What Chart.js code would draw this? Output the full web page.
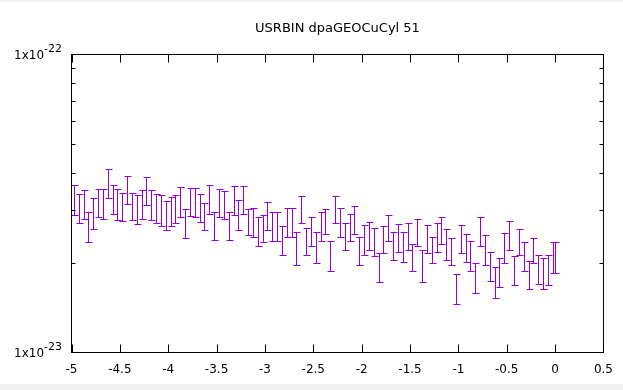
<!DOCTYPE html>
<html>
<head>
<meta charset="utf-8">
<script src="https://cdn.jsdelivr.net/npm/chart.js@4.4.1/dist/chart.umd.min.js"></script>
<style>
  html, body { margin: 0; padding: 0; background: #f0f0f0; }
  #wrap { position: absolute; left: 0; top: 2px; width: 623px; height: 382px; background: #fff; }
</style>
</head>
<body>
<div id="wrap"><canvas id="chart" width="623" height="382"></canvas></div>
<script>
// bin centres (x) and error bar limits, values in units of 1e-23
var binCenters = [
  -4.975, -4.925, -4.875, -4.825, -4.775, -4.725, -4.675, -4.625, -4.575, -4.525,
  -4.475, -4.425, -4.375, -4.325, -4.275, -4.225, -4.175, -4.125, -4.075, -4.025,
  -3.975, -3.925, -3.875, -3.825, -3.775, -3.725, -3.675, -3.625, -3.575, -3.525,
  -3.475, -3.425, -3.375, -3.325, -3.275, -3.225, -3.175, -3.125, -3.075, -3.025,
  -2.975, -2.925, -2.875, -2.825, -2.775, -2.725, -2.675, -2.625, -2.575, -2.525,
  -2.475, -2.425, -2.375, -2.325, -2.275, -2.225, -2.175, -2.125, -2.075, -2.025,
  -1.975, -1.925, -1.875, -1.825, -1.775, -1.725, -1.675, -1.625, -1.575, -1.525,
  -1.475, -1.425, -1.375, -1.325, -1.275, -1.225, -1.175, -1.125, -1.075, -1.025,
  -0.975, -0.925, -0.875, -0.825, -0.775, -0.725, -0.675, -0.625, -0.575, -0.525,
  -0.475, -0.425, -0.375, -0.325, -0.275, -0.225, -0.175, -0.125, -0.075, -0.025,
  0
];
var highVals = [
  3.64, 3.41, 3.52, 2.96, 3.31, 3.55, 3.55, 4.14, 3.64, 3.55,
  3.44, 3.92, 3.44, 3.39, 3.52, 3.89, 3.52, 3.41, 3.39, 3.23,
  3.33, 3.39, 3.60, 3.04, 3.57, 3.57, 3.41, 3.18, 3.64, 2.96,
  3.55, 3.47, 2.96, 3.61, 3.26, 3.63, 3.02, 3.06, 2.86, 2.90,
  3.21, 2.95, 2.97, 2.65, 3.06, 3.06, 2.53, 3.36, 2.62, 2.84,
  2.53, 2.97, 3.04, 2.37, 3.36, 3.06, 2.73, 2.92, 3.09, 2.45,
  2.67, 2.75, 2.62, 2.16, 2.65, 2.90, 2.53, 2.69, 2.54, 2.73,
  2.32, 2.81, 2.20, 2.67, 2.45, 2.73, 2.84, 2.60, 2.43, 1.83,
  2.67, 2.49, 2.36, 2.00, 2.86, 2.47, 2.18, 1.94, 2.08, 2.51,
  2.77, 2.10, 2.60, 2.34, 2.03, 2.43, 2.12, 2.08, 2.13, 2.34,
  2.34
];
var lowVals = [
  2.89, 2.71, 2.81, 2.34, 2.60, 2.84, 2.81, 3.31, 2.91, 2.79,
  2.76, 3.14, 2.79, 2.69, 2.81, 3.12, 2.78, 2.72, 2.65, 2.58,
  2.65, 2.72, 2.86, 2.43, 2.87, 2.86, 2.75, 2.58, 2.91, 2.39,
  2.86, 2.81, 2.39, 2.89, 2.58, 2.92, 2.47, 2.45, 2.28, 2.34,
  2.58, 2.36, 2.36, 2.13, 2.45, 2.45, 1.96, 2.73, 2.12, 2.28,
  2.00, 2.37, 2.49, 1.88, 2.73, 2.45, 2.21, 2.37, 2.49, 1.96,
  2.12, 2.21, 2.10, 1.73, 2.16, 2.36, 2.05, 2.18, 2.02, 2.20,
  1.87, 2.27, 1.73, 2.15, 1.99, 2.18, 2.32, 2.05, 1.97, 1.45,
  2.15, 2.02, 1.87, 1.58, 2.28, 1.97, 1.74, 1.52, 1.66, 1.99,
  2.21, 1.69, 2.12, 1.87, 1.63, 1.99, 1.70, 1.63, 1.69, 1.85,
  1.85
];
var unit = 1e-23;

var xTickVals = [-5, -4.5, -4, -3.5, -3, -2.5, -2, -1.5, -1, -0.5, 0, 0.5];
var yMajorVals = [1e-23, 1e-22];
var yMajorExp = ['-23', '-22'];
var yMinorVals = [2e-23, 3e-23, 4e-23, 5e-23, 6e-23, 7e-23, 8e-23, 9e-23];

var barColor = '#9400d3';
var fontFamily = "'DejaVu Sans', sans-serif";

// error bars with caps, through the chart scales
var errorBars = {
  id: 'errorBars',
  afterDatasetsDraw: function (chart) {
    var xs = chart.scales.x, ys = chart.scales.y, ctx = chart.ctx;
    ctx.save();
    ctx.strokeStyle = barColor;
    ctx.lineWidth = 1;
    binCenters.forEach(function (x, i) {
      var px = Math.round(xs.getPixelForValue(x)) + 0.5;
      var top = Math.round(ys.getPixelForValue(highVals[i] * unit)) + 0.5;
      var bot = Math.round(ys.getPixelForValue(lowVals[i] * unit)) + 0.5;
      ctx.beginPath();
      ctx.moveTo(px, top); ctx.lineTo(px, bot);
      ctx.moveTo(px - 3, top); ctx.lineTo(px + 4, top);
      ctx.moveTo(px - 3, bot); ctx.lineTo(px + 4, bot);
      ctx.stroke();
    });
    ctx.restore();
  }
};

// gnuplot style frame: box, inward ticks, mirrored, 1x10^n labels
var frame = {
  id: 'frame',
  afterDraw: function (chart) {
    var a = chart.chartArea, ctx = chart.ctx;
    var xs = chart.scales.x, ys = chart.scales.y;
    ctx.save();
    ctx.strokeStyle = '#000';
    ctx.lineWidth = 1;
    ctx.strokeRect(a.left, a.top, a.right - a.left, a.bottom - a.top);

    ctx.beginPath();
    xTickVals.forEach(function (v) {
      var px = Math.round(xs.getPixelForValue(v)) + 0.5;
      ctx.moveTo(px, a.bottom); ctx.lineTo(px, a.bottom - 8);
      ctx.moveTo(px, a.top); ctx.lineTo(px, a.top + 8);
    });
    yMinorVals.forEach(function (v) {
      var py = Math.round(ys.getPixelForValue(v)) + 0.5;
      ctx.moveTo(a.left, py); ctx.lineTo(a.left + 4, py);
      ctx.moveTo(a.right, py); ctx.lineTo(a.right - 4, py);
    });
    ctx.stroke();

    ctx.fillStyle = '#000';
    ctx.textBaseline = 'middle';
    ctx.textAlign = 'right';
    yMajorVals.forEach(function (v, i) {
      var py = ys.getPixelForValue(v);
      var xr = a.left - 9.5;
      ctx.font = '11px ' + fontFamily;
      var sw = ctx.measureText(yMajorExp[i]).width;
      ctx.fillText(yMajorExp[i], xr, py - 5);
      ctx.font = '12px ' + fontFamily;
      ctx.fillText('1x10', xr - sw, py + 1);
    });
    ctx.restore();
  }
};

new Chart(document.getElementById('chart'), {
  type: 'scatter',
  data: {
    datasets: [{
      data: binCenters.map(function (x, i) { return { x: x, y: highVals[i] * unit }; }),
      pointRadius: 0,
      showLine: false
    }]
  },
  options: {
    responsive: false,
    devicePixelRatio: 1,
    animation: false,
    layout: { padding: { left: 0, right: 19.5, top: 0, bottom: 0 } },
    plugins: {
      legend: { display: false },
      tooltip: { enabled: false },
      title: {
        display: true,
        text: 'USRBIN dpaGEOCuCyl 51',
        fullSize: false,
        color: '#000',
        font: { family: fontFamily, size: 13, weight: 'normal', lineHeight: 1.2 },
        padding: { top: 19, bottom: 17.9 }
      }
    },
    scales: {
      x: {
        type: 'linear',
        min: -5,
        max: 0.5,
        grid: { display: false, drawTicks: false },
        border: { display: false },
        afterBuildTicks: function (s) {
          s.ticks = xTickVals.map(function (v) { return { value: v }; });
        },
        afterFit: function (s) { s.height = 31.5; },
        ticks: {
          color: '#000',
          padding: 10,
          maxRotation: 0,
          autoSkip: false,
          font: { family: fontFamily, size: 12 },
          callback: function (v) { return String(v); }
        }
      },
      y: {
        type: 'logarithmic',
        min: 1e-23,
        max: 1e-22,
        grid: { display: false, drawTicks: false },
        border: { display: false },
        ticks: { display: false },
        afterFit: function (s) { s.width = 71.5; }
      }
    }
  },
  plugins: [errorBars, frame]
});
</script>
</body>
</html>
